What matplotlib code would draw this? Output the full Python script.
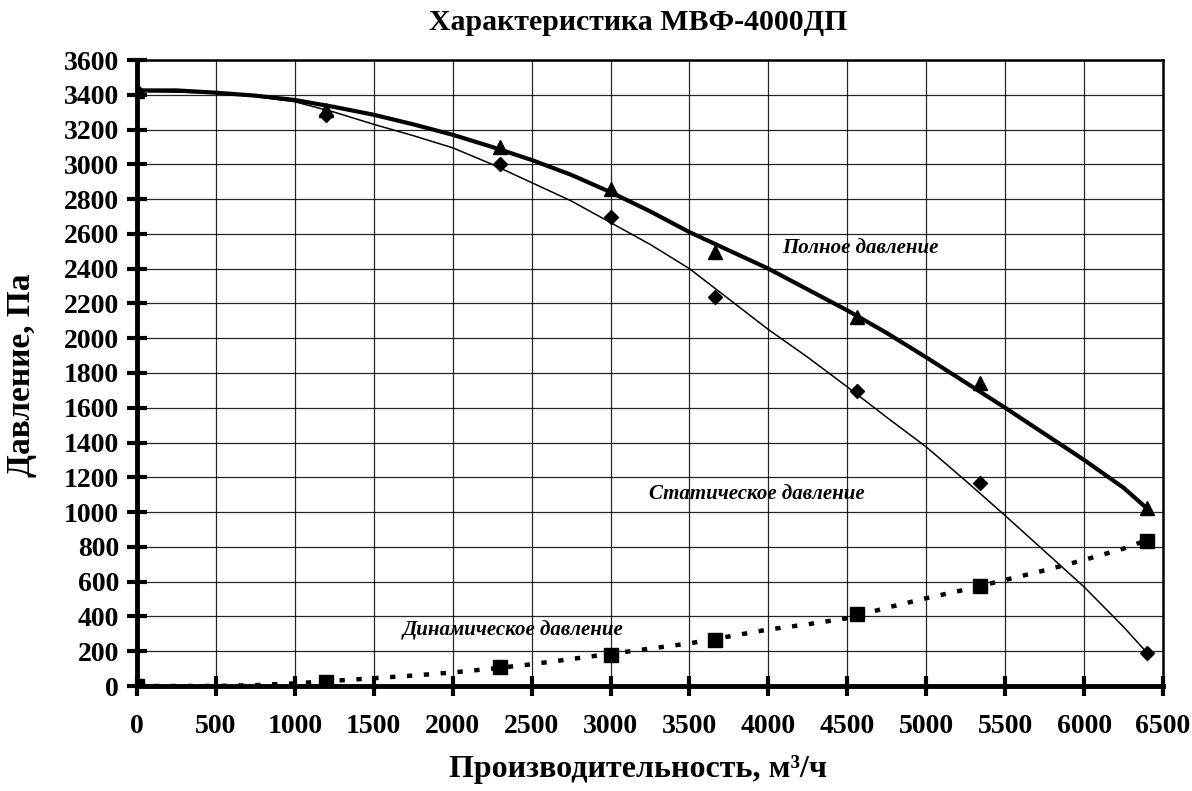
import numpy as np
import matplotlib
matplotlib.use("Agg")
import matplotlib.pyplot as plt

# measured points (markers)
flow = [0, 1200, 2300, 3000, 3660, 4560, 5340, 6400]
p_full = [3420, 3310, 3100, 2860, 2495, 2120, 1745, 1025]
p_static = [3420, 3285, 3000, 2695, 2235, 1695, 1165, 190]
p_dyn = [0, 25, 110, 178, 262, 415, 577, 835]

# smoothed characteristic curves
curve_x = [0, 250, 500, 750, 1000, 1250, 1500, 1750, 2000, 2250, 2500, 2750, 3000,
           3250, 3500, 3750, 4000, 4250, 4500, 4750, 5000, 5250, 5500, 5750, 6000,
           6250, 6400]
curve_full = [3425, 3425, 3412, 3395, 3370, 3330, 3285, 3230, 3170, 3100, 3025, 2940,
              2840, 2730, 2610, 2505, 2400, 2280, 2160, 2030, 1890, 1745, 1600, 1450,
              1300, 1140, 1020]
curve_static = [3420, 3415, 3410, 3390, 3360, 3300, 3230, 3165, 3095, 3000, 2895, 2790,
                2665, 2540, 2400, 2225, 2050, 1890, 1720, 1545, 1375, 1180, 980, 775,
                570, 340, 190]
curve_dyn = [0, 0, 0, 5, 15, 30, 45, 60, 78, 100, 125, 155, 185, 215, 245, 285, 325,
             355, 390, 450, 505, 555, 610, 665, 725, 790, 840]

xticks = list(range(0, 6501, 500))
yticks = list(range(0, 3601, 200))

plt.rcParams['font.family'] = ['Liberation Serif', 'DejaVu Serif']

fig = plt.figure(figsize=(11.92, 7.91), dpi=100)
ax = fig.add_axes([137 / 1192, 1 - 686 / 791, 1026 / 1192, 626 / 791])

ax.plot(curve_x, curve_full, color='black', lw=3.0, zorder=3)
ax.plot(curve_x, curve_static, color='black', lw=1.1, zorder=3)
ax.plot(curve_x, curve_dyn, color='black', lw=3.2, linestyle=(0, (1.2, 2.6)),
        dash_capstyle='butt', zorder=3)

ax.plot(flow, p_full, '^', color='black', ms=10, zorder=4)
ax.plot(flow, p_static, 'D', color='black', ms=7, zorder=4)
ax.plot(flow, p_dyn, 's', color='black', ms=10, zorder=4)

ax.set_xlim(0, 6500)
ax.set_ylim(0, 3600)
ax.set_xticks(xticks)
ax.set_yticks(yticks)
ax.grid(True, color='black', lw=0.9, alpha=0.85)
ax.set_axisbelow(True)

for s in ['left', 'bottom']:
    ax.spines[s].set_linewidth(3.5)
for s in ['top', 'right']:
    ax.spines[s].set_linewidth(1.8)

ax.tick_params(direction='inout', length=14, width=3, pad=13,
               labelsize=20)
ax.tick_params(axis='y', pad=6)
for lab in ax.get_xticklabels() + ax.get_yticklabels():
    lab.set_fontweight('bold')

ax.text(4090, 2520, 'Полное давление', style='italic', fontsize=15,
        fontweight='bold', va='center', ha='left')
ax.text(3245, 1105, 'Статическое давление', style='italic', fontsize=15,
        fontweight='bold', va='center', ha='left')
ax.text(1680, 322, 'Динамическое давление', style='italic', fontsize=15,
        fontweight='bold', va='center', ha='left')

fig.text(638 / 1192, 1 - 22 / 791, 'Характеристика МВФ-4000ДП', ha='center',
         va='center', fontsize=21.5, fontweight='bold')
fig.text(22 / 1192, 1 - 375 / 791, 'Давление, Па', rotation=90, ha='center',
         va='center', fontsize=24, fontweight='bold')
fig.text(638 / 1192, 1 - 770 / 791, 'Производительность, м³/ч',
         ha='center', va='center', fontsize=23, fontweight='bold')

fig.savefig('out.png', dpi=100)
